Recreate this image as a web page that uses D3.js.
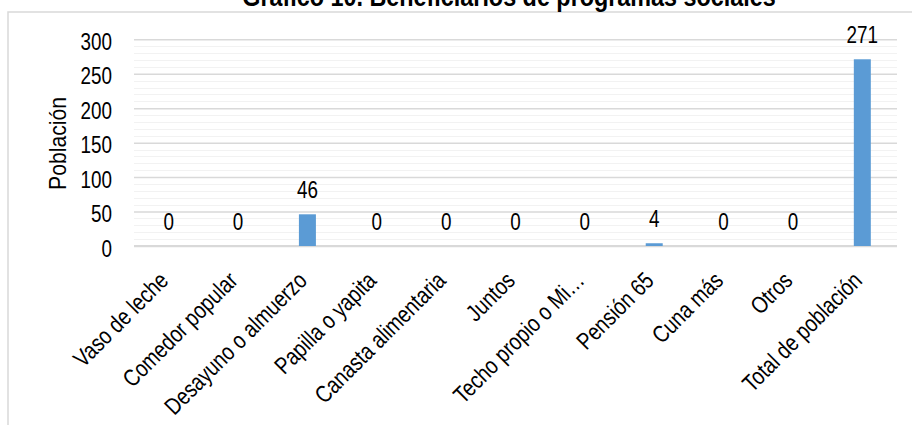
<!DOCTYPE html>
<html><head><meta charset="utf-8">
<script src="https://cdn.jsdelivr.net/npm/d3@7"></script>
<style>
html,body{margin:0;padding:0;background:#fff;}
svg{display:block;}
text{font-family:"Liberation Sans Narrow","Arial Narrow","Liberation Sans",Arial,sans-serif;fill:#000;}
</style></head>
<body>
<svg id="chart" width="912" height="425"></svg>
<script>
const titleText = "Gráfico 10. Beneficiarios de programas sociales";
const yAxisTitle = "Población";
const categories = ["Vaso de leche","Comedor popular","Desayuno o almuerzo","Papilla o yapita","Canasta alimentaria","Juntos","Techo propio o Mi…","Pensión 65","Cuna más","Otros","Total de población"];
const values = [0,0,46,0,0,0,0,4,0,0,271];
const yTicks = [0,50,100,150,200,250,300];
const minorTicks = d3.range(0,301,10);

const svg = d3.select("#chart");
const plot = {left:134, right:897, top:39.3, bottom:246};
const NARROW = 0.82;   // condensed look of the original font
const FS = 23;

// frame
svg.append("rect").attr("x",8).attr("y",12).attr("width",1000).attr("height",1000)
  .attr("fill","#fff").attr("stroke","#d9d9d9").attr("stroke-width",1.5);

// title (partially clipped at top, as in the reference)
svg.append("text").attr("text-anchor","middle")
  .attr("transform",`translate(509,5.5) scale(${NARROW},1)`)
  .style("font-weight","bold").style("font-size","28.5px").text(titleText);

const x = d3.scaleBand().domain(categories).range([plot.left,plot.right]).paddingInner(0.755).paddingOuter(0.3775);
const y = d3.scaleLinear().domain([0,300]).range([plot.bottom,plot.top]);

// minor gridlines
svg.append("g").selectAll("line").data(minorTicks.filter(d=>d%50!==0)).join("line")
  .attr("x1",plot.left).attr("x2",plot.right)
  .attr("y1",d=>Math.round(y(d))+0.5).attr("y2",d=>Math.round(y(d))+0.5)
  .attr("stroke","#f2f2f2").attr("stroke-width",1);

// major gridlines via axis
const yAxis = d3.axisLeft(y).tickValues(yTicks).tickSize(-(plot.right-plot.left)).tickFormat(d3.format("d"));
const gy = svg.append("g").attr("transform",`translate(${plot.left},0)`).call(yAxis);
gy.select(".domain").remove();
gy.selectAll(".tick line").attr("stroke","#d9d9d9").attr("stroke-width",1.5);
gy.selectAll(".tick text").attr("x",null).attr("dy",null)
  .attr("text-anchor","end").style("font-size",FS+"px").attr("fill","#000")
  .attr("transform",`translate(-22,10) scale(${NARROW},1)`);

// x axis
const xAxis = d3.axisBottom(x).tickSize(0).tickPadding(0);
const gx = svg.append("g").attr("transform",`translate(0,${plot.bottom})`).call(xAxis);
gx.select(".domain").attr("stroke","#d9d9d9").attr("stroke-width",2)
  .attr("d",`M${plot.left},0H${plot.right}`);
gx.selectAll(".tick text").style("font-size","23.8px").attr("fill","#000")
  .attr("text-anchor","end").attr("dy",null).attr("y",0)
  .attr("transform",`translate(1,36) rotate(-45) scale(${NARROW},1)`);

// bars
svg.append("g").selectAll("rect").data(values).join("rect")
  .attr("x",(d,i)=>x(categories[i])).attr("width",x.bandwidth())
  .attr("y",d=>y(d)).attr("height",d=>y(0)-y(d)).attr("fill","#5b9bd5");

// data labels
svg.append("g").selectAll("text").data(values).join("text")
  .attr("transform",(d,i)=>`translate(${x(categories[i])+x.bandwidth()/2},${y(d)-16.5}) scale(${NARROW},1)`)
  .attr("text-anchor","middle").style("font-size",FS+"px").text(d=>d);

// y axis title
svg.append("text").attr("transform",`translate(66,143.5) rotate(-90) scale(0.92,1)`)
  .attr("text-anchor","middle").style("font-size",FS+"px").text(yAxisTitle);
</script>
</body></html>
